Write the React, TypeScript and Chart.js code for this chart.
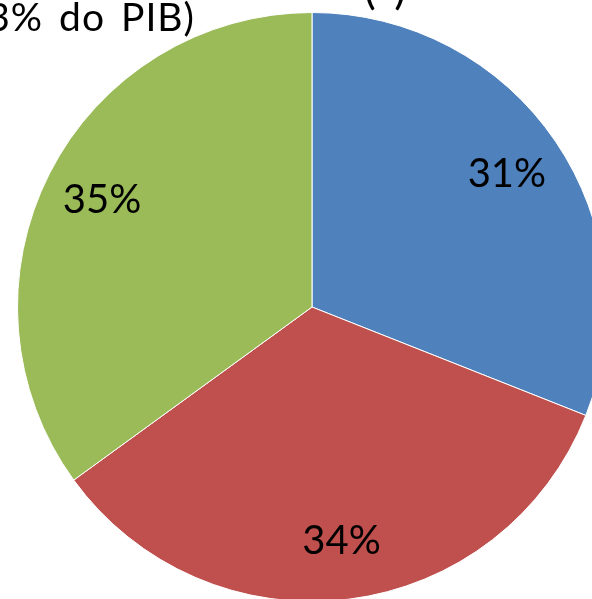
import React, { useEffect, useRef } from "react";
import { Chart, registerables } from "chart.js";

Chart.register(...registerables);

const categories = ["A", "B", "C"];
const shares = [31, 34, 35];
const colors = ["#4F81BD", "#C0504D", "#9BBB59"];
const titleLine = "3% do PIB)";
const titleRightFragment = "(*)";

const labelPlugin = {
  id: "pctLabels",
  afterDatasetsDraw(chart: any) {
    const ctx = chart.ctx;
    const meta = chart.getDatasetMeta(0);
    ctx.save();
    ctx.font = "40px Lato";
    ctx.fillStyle = "#000";
    ctx.textAlign = "center";
    ctx.textBaseline = "middle";
    meta.data.forEach((arc: any, i: number) => {
      const p = arc.getProps(["x", "y", "startAngle", "endAngle", "outerRadius"], true);
      const mid = (p.startAngle + p.endAngle) / 2;
      const r = p.outerRadius * 0.8;
      ctx.fillText(shares[i] + "%", p.x + Math.cos(mid) * r, p.y + Math.sin(mid) * r);
    });
    ctx.restore();
  },
};

const titlePlugin = {
  id: "cutTitle",
  afterDraw(chart: any) {
    const ctx = chart.ctx;
    ctx.save();
    ctx.font = "39px Lato";
    ctx.fillStyle = "#000";
    ctx.textBaseline = "alphabetic";
    ctx.textAlign = "right";
    try {
      (ctx as any).letterSpacing = "1px";
      (ctx as any).wordSpacing = "5px";
    } catch (e) {}
    ctx.fillText(titleLine, 195, 31);
    (ctx as any).letterSpacing = "0px";
    (ctx as any).wordSpacing = "0px";
    ctx.textAlign = "center";
    ctx.font = "44px Lato";
    ctx.fillText(titleRightFragment, 385, 4);
    ctx.restore();
  },
};

export default function App() {
  const ref = useRef<HTMLCanvasElement>(null);
  useEffect(() => {
    if (!ref.current) return;
    const chart = new Chart(ref.current, {
      type: "pie",
      data: {
        labels: categories,
        datasets: [
          {
            data: shares,
            backgroundColor: colors,
            borderColor: "#ffffff",
            borderWidth: 1,
          },
        ],
      },
      options: {
        responsive: false,
        animation: false,
        layout: { padding: { left: 17, top: 12, right: 33, bottom: 38 } },
        plugins: {
          legend: { display: false },
          tooltip: { enabled: false },
          title: { display: false },
        },
      },
      plugins: [labelPlugin, titlePlugin],
    });
    return () => chart.destroy();
  }, []);
  return (
    <div
      style={{
        position: "fixed",
        left: 0,
        top: 0,
        width: 592,
        height: 599,
        overflow: "hidden",
        background: "#fff",
      }}
    >
      <canvas ref={ref} width={640} height={640} style={{ position: "absolute", left: 0, top: 0 }} />
    </div>
  );
}
